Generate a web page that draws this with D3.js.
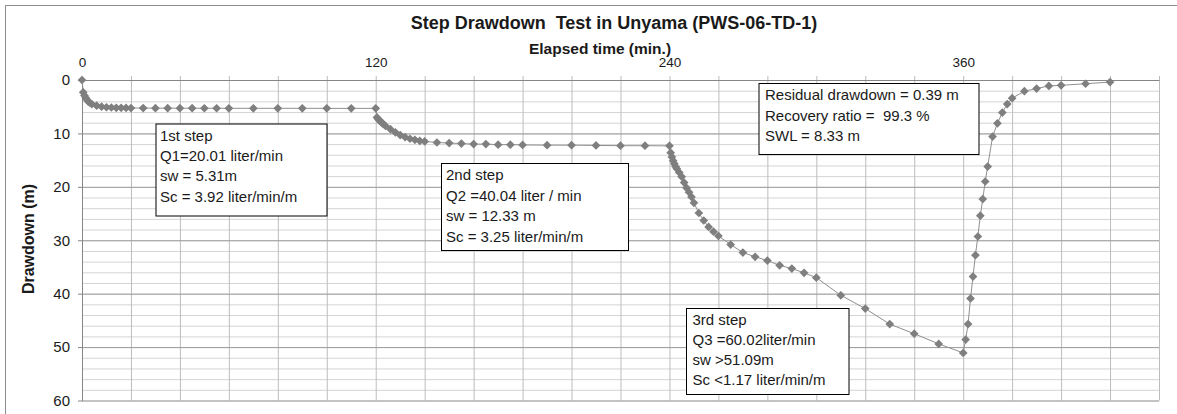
<!DOCTYPE html>
<html>
<head>
<meta charset="utf-8">
<script src="https://cdn.jsdelivr.net/npm/d3@7"></script>
<style>
  body { margin: 0; background: #fff; }
  svg { display: block; }
  text { font-family: "Liberation Sans", Arial, sans-serif; fill: #1a1a1a; }
</style>
</head>
<body>
<div id="chart"></div>
<script>
// elapsed time (min) and drawdown (m)
const step1Time = [0, 0.5, 1, 1.5, 2, 2.5, 3, 4, 6, 8, 10, 12, 14, 16, 18, 20, 25, 30, 35, 40, 45, 50, 55, 60, 70, 80, 90, 100, 110, 120];
const step1Drawdown = [0, 2.3, 2.9, 3.3, 3.7, 4.0, 4.2, 4.5, 4.8, 5.0, 5.1, 5.15, 5.2, 5.2, 5.22, 5.25, 5.25, 5.27, 5.27, 5.28, 5.28, 5.29, 5.29, 5.3, 5.3, 5.3, 5.3, 5.31, 5.31, 5.31];

const step2Time = [120.5, 121, 121.5, 122, 122.5, 123, 124, 126, 128, 130, 132, 134, 136, 138, 140, 145, 150, 155, 160, 165, 170, 175, 180, 190, 200, 210, 220, 230, 240];
const step2Drawdown = [7.0, 7.3, 7.6, 7.8, 8.0, 8.2, 8.6, 9.2, 9.8, 10.3, 10.7, 11.0, 11.2, 11.4, 11.5, 11.7, 11.8, 11.9, 12.0, 12.0, 12.1, 12.1, 12.15, 12.2, 12.2, 12.25, 12.3, 12.3, 12.33];

const step3Time = [240.5, 241, 241.5, 242, 242.5, 243, 244, 245, 246, 247, 248, 249, 250, 252, 254, 256, 258, 260, 265, 270, 275, 280, 285, 290, 295, 300, 310, 320, 330, 340, 350, 360];
const step3Drawdown = [13.6, 14.4, 15.1, 15.7, 16.2, 16.6, 17.3, 18.1, 19.2, 20.2, 21.0, 21.9, 23.0, 24.9, 26.3, 27.5, 28.4, 29.2, 30.8, 32.3, 33.1, 33.8, 34.7, 35.3, 36.1, 37.0, 40.3, 42.8, 45.7, 47.5, 49.4, 51.09];

const recoveryTime = [361, 362, 363, 364, 365, 366, 367, 368, 369, 370, 372, 374, 376, 378, 380, 385, 390, 395, 400, 410, 420];
const recoveryDrawdown = [48.6, 45.7, 40.9, 36.8, 32.8, 29.3, 25.4, 22.3, 19.0, 16.2, 10.6, 8.1, 6.1, 4.5, 3.4, 2.1, 1.6, 1.1, 1.0, 0.7, 0.39];

const xTickLabels = [0, 120, 240, 360];
const yTickLabels = [0, 10, 20, 30, 40, 50, 60];

const step1Notes = ["1st step", "Q1=20.01 liter/min", "sw = 5.31m", "Sc = 3.92 liter/min/m"];
const step2Notes = ["2nd step", "Q2 =40.04 liter / min", "sw = 12.33 m", "Sc = 3.25 liter/min/m"];
const step3Notes = ["3rd step", "Q3 =60.02liter/min", "sw >51.09m", "Sc <1.17 liter/min/m"];
const recoveryNotes = ["Residual drawdown = 0.39 m", "Recovery ratio =  99.3 %", "SWL = 8.33 m"];

const width = 1177, height = 414;
const plot = { left: 82, top: 80, right: 1159, bottom: 400.5 };

const svg = d3.select("#chart").append("svg")
    .attr("width", width)
    .attr("height", height);

// outer chart frame (right/bottom edges fall outside the picture)
svg.append("rect")
    .attr("x", 5.5).attr("y", 5.5)
    .attr("width", 1190).attr("height", 430)
    .attr("fill", "#fff")
    .attr("stroke", "#8c8c8c");

const x = d3.scaleLinear().domain([0, 440]).range([plot.left, plot.right]);
const y = d3.scaleLinear().domain([0, 60]).range([plot.top, plot.bottom]);

const pw = plot.right - plot.left, ph = plot.bottom - plot.top;

// minor horizontal grid every 2 m
svg.append("g")
    .attr("transform", `translate(${plot.left},0)`)
    .call(d3.axisLeft(y).tickValues(d3.range(0, 61, 2)).tickSize(-pw).tickFormat(""))
    .call(g => g.select(".domain").remove())
    .call(g => g.selectAll("line").attr("stroke", "#d4d4d4"));

// vertical grid every 20 min, with small ticks above the top axis
svg.append("g")
    .attr("transform", `translate(0,${plot.top})`)
    .call(d3.axisTop(x).tickValues(d3.range(0, 441, 20)).tickSize(-ph).tickFormat(""))
    .call(g => g.select(".domain").remove())
    .call(g => g.selectAll("line").attr("y1", -4).attr("stroke", "#bdbdbd"));

// major horizontal grid every 10 m
svg.append("g")
    .attr("transform", `translate(${plot.left},0)`)
    .call(d3.axisLeft(y).tickValues(yTickLabels).tickSize(-pw).tickFormat(""))
    .call(g => g.select(".domain").remove())
    .call(g => g.selectAll("line").attr("stroke", "#9e9e9e"));

// top x axis
const xAxisG = svg.append("g")
    .attr("transform", `translate(0,${plot.top})`)
    .call(d3.axisTop(x).tickValues(xTickLabels).tickSize(0).tickPadding(13));
xAxisG.select(".domain").attr("stroke", "#868686");
xAxisG.selectAll("text")
    .attr("font-family", "'Liberation Sans', Arial, sans-serif")
    .attr("font-size", 13.5)
    .attr("fill", "#1a1a1a");

// left y axis
const yAxisG = svg.append("g")
    .attr("transform", `translate(${plot.left},0)`)
    .call(d3.axisLeft(y).tickValues(yTickLabels).tickSize(4).tickSizeOuter(0).tickPadding(8));
yAxisG.select(".domain").attr("stroke", "#868686");
yAxisG.selectAll("line").attr("stroke", "#868686");
yAxisG.selectAll("text")
    .attr("font-family", "'Liberation Serif', 'Times New Roman', serif")
    .attr("font-size", 15)
    .attr("fill", "#1a1a1a");

// titles
svg.append("text")
    .attr("x", 614).attr("y", 28.5)
    .attr("text-anchor", "middle")
    .attr("font-weight", "bold")
    .attr("font-size", 18)
    .style("white-space", "pre")
    .text("Step Drawdown  Test in Unyama (PWS-06-TD-1)");

svg.append("text")
    .attr("x", 600).attr("y", 53.5)
    .attr("text-anchor", "middle")
    .attr("font-weight", "bold")
    .attr("font-size", 15.5)
    .text("Elapsed time (min.)");

svg.append("text")
    .attr("transform", "translate(34,239) rotate(-90)")
    .attr("text-anchor", "middle")
    .attr("font-weight", "bold")
    .attr("font-size", 16)
    .text("Drawdown (m)");

// series
const points = [
    ...d3.zip(step1Time, step1Drawdown),
    ...d3.zip(step2Time, step2Drawdown),
    ...d3.zip(step3Time, step3Drawdown),
    ...d3.zip(recoveryTime, recoveryDrawdown)
].map(([t, s]) => ({ t, s }));

const line = d3.line().x(d => x(d.t)).y(d => y(d.s));

svg.append("path")
    .datum(points)
    .attr("fill", "none")
    .attr("stroke", "#8f8f8f")
    .attr("stroke-width", 1)
    .attr("d", line);

const diamond = d3.symbol().type(d3.symbolSquare).size(38);

svg.append("g").selectAll("path")
    .data(points)
    .join("path")
    .attr("transform", d => `translate(${x(d.t)},${y(d.s)}) rotate(45)`)
    .attr("d", diamond)
    .attr("fill", "#7f7f7f");

// annotation boxes
const notes = [
    { lines: step1Notes, x: 156, y: 124, w: 171, h: 92, pad: 4, first: 17, step: 20.2 },
    { lines: step2Notes, x: 441.5, y: 163.5, w: 187, h: 87, pad: 4.5, first: 16.2, step: 20.8 },
    { lines: step3Notes, x: 686.5, y: 308.5, w: 162.5, h: 86, pad: 6, first: 16.2, step: 20.2 },
    { lines: recoveryNotes, x: 759, y: 83.5, w: 220, h: 71, pad: 6, first: 16.5, step: 20.5 }
];

const noteG = svg.append("g").selectAll("g")
    .data(notes)
    .join("g")
    .attr("transform", d => `translate(${d.x},${d.y})`);

noteG.append("rect")
    .attr("width", d => d.w)
    .attr("height", d => d.h)
    .attr("fill", "#fff")
    .attr("stroke", "#000")
    .attr("stroke-width", 1);

noteG.each(function(d) {
    d3.select(this).selectAll("text")
        .data(d.lines)
        .join("text")
        .attr("x", d.pad)
        .attr("y", (l, i) => d.first + i * d.step)
        .attr("font-size", 15)
        .style("white-space", "pre")
        .text(l => l);
});
</script>
</body>
</html>
